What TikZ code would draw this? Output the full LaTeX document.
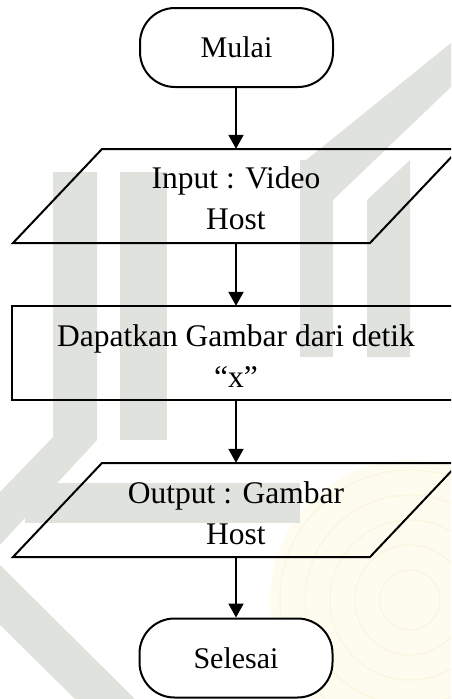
\documentclass[tikz,border=0pt]{standalone}
\usepackage{fontspec}
\setmainfont{Liberation Serif}
\usetikzlibrary{arrows.meta}

\definecolor{wmgray}{RGB}{224,227,221}
\definecolor{wmyellow}{RGB}{253,252,238}
\definecolor{wmline}{RGB}{250,246,222}

\tikzset{
  flowline/.style={line width=2pt, black},
  arr/.style={flowline, -{Triangle[length=14pt,width=15pt]}},
  terminal/.style={draw, line width=2pt, rounded corners=35pt,
    minimum width=193pt, minimum height=79pt, font=\fontsize{30}{36}\selectfont},
  ioframe/.style={minimum width=200pt, minimum height=94pt, inner sep=0pt},
  procframe/.style={minimum width=448pt, minimum height=94pt, inner sep=0pt},
  label2/.style={align=center, inner sep=0pt, font=\fontsize{31.5}{41}\selectfont}
}

\begin{document}
\begin{tikzpicture}[x=1pt,y=-1pt]
\useasboundingbox (0,0) rectangle (451,699);
\clip (0,0) rectangle (451,699);

% faint background emblem
\fill[wmyellow] (410,600) circle (140pt);
\foreach \r in {30,55,80,105,130}
  \draw[wmline, line width=1.2pt] (410,600) circle (\r pt);
\fill[wmgray] (53,172) -- (97,172) -- (97,440) -- (0,545) -- (0,492) -- (53,437) -- cycle;
\fill[wmgray] (120,172) -- (167,172) -- (167,440) -- (120,440) -- cycle;
\fill[wmgray] (300,160) -- (333,160) -- (333,357) -- (300,357) -- cycle;
\fill[wmgray] (367,200) -- (410,160) -- (410,357) -- (367,357) -- cycle;
\fill[wmgray] (451,43) -- (451,87) -- (333,200) -- (300,200) -- (300,165) -- cycle;
\fill[wmgray] (25,483) -- (300,483) -- (300,523) -- (25,523) -- cycle;
\fill[wmgray] (0,565) -- (0,625) -- (75,699) -- (135,699) -- cycle;

% nodes
\node[terminal, fill=white] (mulai) at (236.5,47.5) {Mulai};

\node[ioframe] (inp) at (236,196) {};
\draw[flowline] ([shift={(-134,-47)}]inp.center) -- ([shift={(223,-47)}]inp.center)
  -- ([shift={(134,47)}]inp.center) -- ([shift={(-223,47)}]inp.center) -- cycle;
\node[label2] (inptext) at ([yshift=-2.5pt]inp.center) {Input : Video\\Host};

\node[procframe] (proc) at (236,353) {};
\draw[flowline] (proc.north east) -- (proc.north west) -- (proc.south west) -- (proc.south east);
\node[label2] (proctext) at ([yshift=-3.5pt]proc.center) {Dapatkan Gambar dari detik\\``x''};

\node[ioframe] (outp) at (236,510) {};
\draw[flowline] ([shift={(-134,-47)}]outp.center) -- ([shift={(223,-47)}]outp.center)
  -- ([shift={(134,47)}]outp.center) -- ([shift={(-223,47)}]outp.center) -- cycle;
\node[label2] (outptext) at ([yshift=-3pt]outp.center) {Output : Gambar\\Host};

\node[terminal, fill=white] (selesai) at (236,658) {Selesai};

% connectors
\draw[arr] (mulai.south -| inp.north) -- (inp.north);
\draw[arr] (inp.south) -- (proc.north -| inp.south);
\draw[arr] (proc.south -| outp.north) -- (outp.north);
\draw[arr] (outp.south) -- (selesai.north -| outp.south);
\end{tikzpicture}
\end{document}
